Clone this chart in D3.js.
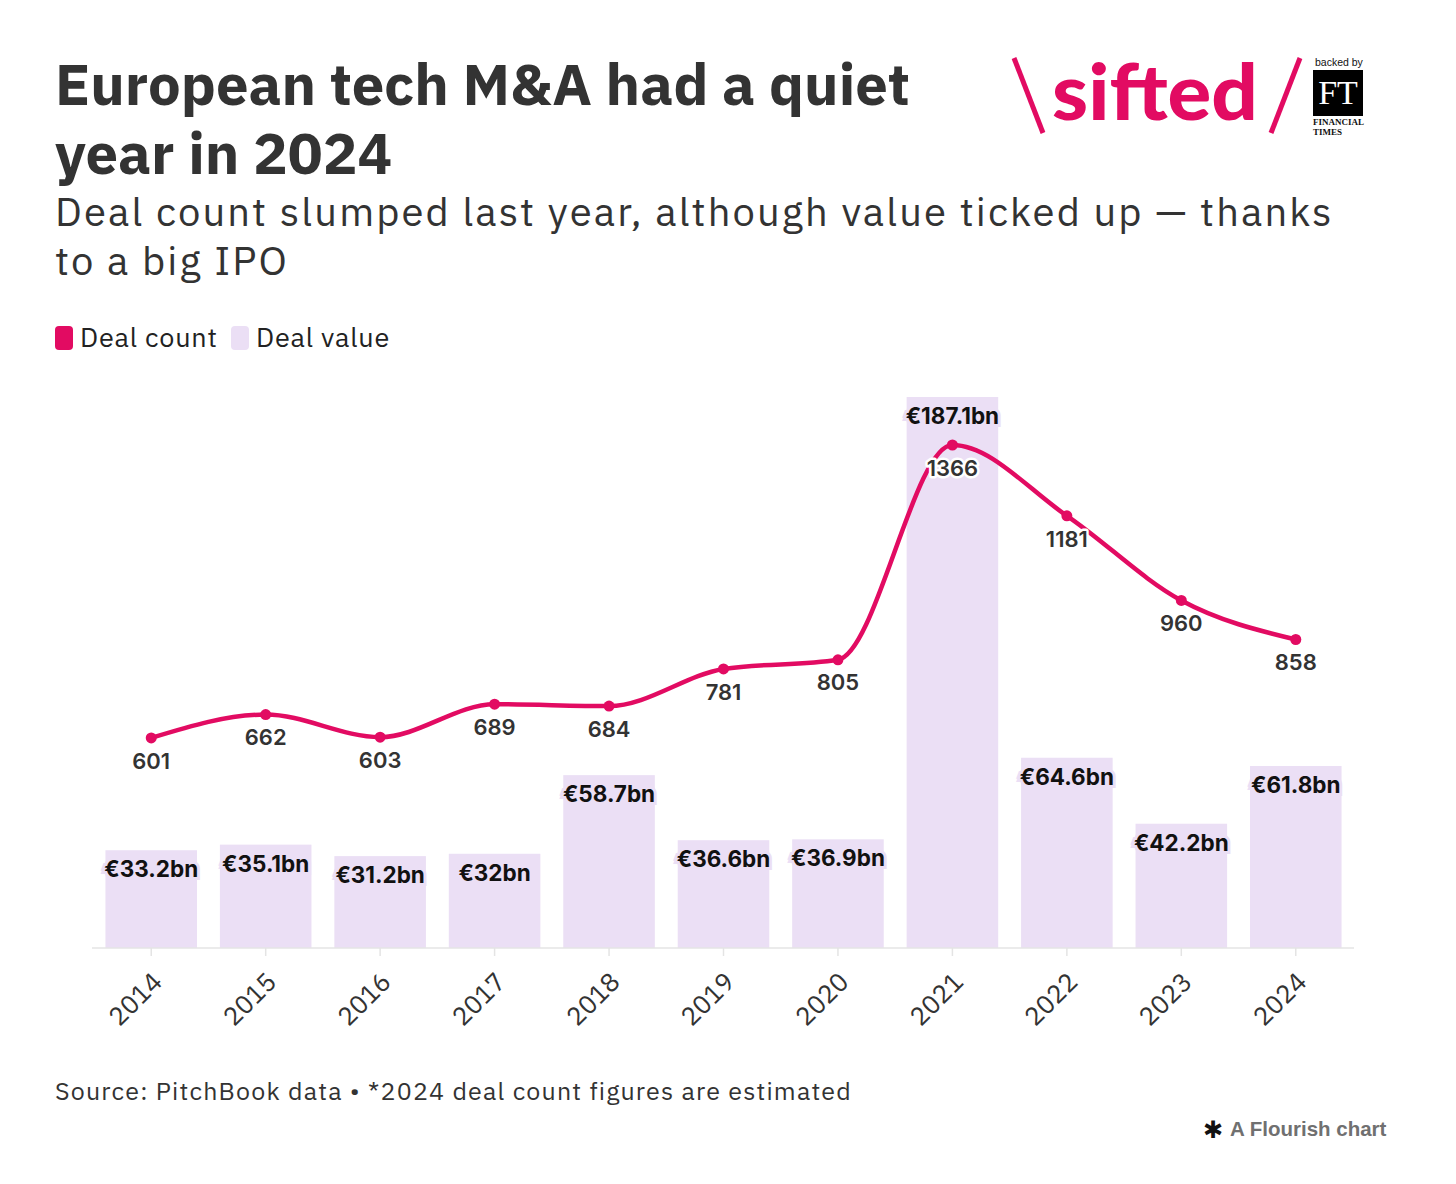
<!DOCTYPE html>
<html>
<head>
<meta charset="utf-8">
<script src="https://cdn.jsdelivr.net/npm/d3@7"></script>
<style>
	body { margin: 0; background: #fff; }
	svg { display: block; }
	.title { font-family: "IBM Plex Sans", "Noto Sans", sans-serif; font-weight: 700; fill: #333; }
	.subtitle { font-family: "IBM Plex Sans", "Noto Sans", sans-serif; font-weight: 400; fill: #333; }
	.legend { font-family: "IBM Plex Sans", "Noto Sans", sans-serif; fill: #222; }
	.tick-label { font-family: "IBM Plex Sans", "Noto Sans", sans-serif; fill: #333; }
	.bar-label { font-family: Inter, sans-serif; font-weight: 700; fill: #111; paint-order: stroke; }
	.count-label { font-family: Inter, sans-serif; font-weight: 600; fill: #333; paint-order: stroke; }
	.axis { stroke: #e4e4e4; stroke-width: 1.5; }
</style>
</head>
<body>
<svg id="chart"></svg>
<script>
var years = ["2014", "2015", "2016", "2017", "2018", "2019", "2020", "2021", "2022", "2023", "2024"];
var dealCount = [601, 662, 603, 689, 684, 781, 805, 1366, 1181, 960, 858];
var dealValue = [33.2, 35.1, 31.2, 32, 58.7, 36.6, 36.9, 187.1, 64.6, 42.2, 61.8];
var legendItems = ["Deal count", "Deal value"];

var pink = "#e20b62";
var lavender = "#ebdff5";

function DealChart(selector) {
	var self = this;
	self.width = 1456;
	self.height = 1184;
	self.svg = d3.select(selector).attr("width", self.width).attr("height", self.height);
	self.x = d3.scaleBand().domain(years).range([94, 1353]).paddingInner(0.2).paddingOuter(0.1);
	self.yValue = d3.scaleLinear().domain([0, d3.max(dealValue)]).range([948, 397]);
	self.yCount = d3.scaleLinear().domain([0, d3.max(dealCount)]).range([968, 445]);
	self.data = years.map(function(y, i) {
		return { year: y, count: dealCount[i], value: dealValue[i] };
	});
}

DealChart.prototype.draw = function() {
	var self = this;
	self.drawHeader();
	self.drawLogo();
	self.drawLegend();
	self.drawBars();
	self.drawAxis();
	self.drawLine();
	self.drawLabels();
	self.drawFooter();
};

DealChart.prototype.drawHeader = function() {
	var self = this;
	var title = self.svg.append("text").attr("class", "title").attr("font-size", 58);
	title.append("tspan").attr("x", 55).attr("y", 105).text("European tech M&A had a quiet");
	title.append("tspan").attr("x", 55).attr("y", 174).text("year in 2024");
	var sub = self.svg.append("text").attr("class", "subtitle").attr("font-size", 40)
		.attr("letter-spacing", 2.1);
	sub.append("tspan").attr("x", 55).attr("y", 226).text("Deal count slumped last year, although value ticked up \u2014 thanks");
	sub.append("tspan").attr("x", 55).attr("y", 275).text("to a big IPO");
};

DealChart.prototype.drawLogo = function() {
	var self = this;
	var g = self.svg.append("g");
	g.append("line").attr("x1", 1014).attr("y1", 58).attr("x2", 1043).attr("y2", 133)
		.attr("stroke", pink).attr("stroke-width", 5);
	g.append("line").attr("x1", 1300).attr("y1", 58).attr("x2", 1271).attr("y2", 133)
		.attr("stroke", pink).attr("stroke-width", 5);
	g.append("text").attr("x", 1052).attr("y", 120)
		.attr("font-family", "Lato, sans-serif").attr("font-weight", 900).attr("font-size", 78)
		.attr("textLength", 206).attr("lengthAdjust", "spacingAndGlyphs")
		.attr("fill", pink).text("sifted");
	g.append("text").attr("x", 1315).attr("y", 66)
		.attr("font-family", "Liberation Sans, sans-serif").attr("font-size", 10.5).attr("fill", "#111")
		.text("backed by");
	g.append("rect").attr("x", 1313).attr("y", 70).attr("width", 50).attr("height", 46).attr("fill", "#000");
	g.append("text").attr("x", 1338).attr("y", 104).attr("text-anchor", "middle")
		.attr("font-family", "Liberation Serif, serif").attr("font-size", 34).attr("fill", "#fff")
		.text("FT");
	var ft = g.append("text").attr("font-family", "Liberation Serif, serif").attr("font-size", 9)
		.attr("font-weight", 700).attr("fill", "#111");
	ft.append("tspan").attr("x", 1313).attr("y", 125).text("FINANCIAL");
	ft.append("tspan").attr("x", 1313).attr("y", 135).text("TIMES");
};

DealChart.prototype.drawLegend = function() {
	var self = this;
	var colors = [pink, lavender];
	var xs = [55, 231];
	legendItems.forEach(function(name, i) {
		self.svg.append("rect").attr("x", xs[i]).attr("y", 326).attr("width", 18).attr("height", 24)
			.attr("rx", 4).attr("fill", colors[i]);
		self.svg.append("text").attr("class", "legend").attr("x", xs[i] + 25).attr("y", 347)
			.attr("font-size", 27).attr("letter-spacing", 0.8).text(name);
	});
};

DealChart.prototype.drawBars = function() {
	var self = this;
	self.svg.append("g").selectAll("rect")
		.data(self.data)
		.enter().append("rect")
		.attr("x", function(d) { return self.x(d.year); })
		.attr("y", function(d) { return self.yValue(d.value); })
		.attr("width", self.x.bandwidth())
		.attr("height", function(d) { return self.yValue(0) - self.yValue(d.value); })
		.attr("fill", lavender);
};

DealChart.prototype.drawAxis = function() {
	var self = this;
	var base = self.yValue(0);
	self.svg.append("line").attr("class", "axis")
		.attr("x1", 92).attr("x2", 1354).attr("y1", base).attr("y2", base);
	var ticks = self.svg.append("g").selectAll("g")
		.data(years)
		.enter().append("g")
		.attr("transform", function(d) {
			return "translate(" + (self.x(d) + self.x.bandwidth() / 2) + "," + base + ")";
		});
	ticks.append("line").attr("y1", 0).attr("y2", 8).attr("stroke", "#e4e4e4").attr("stroke-width", 1.5);
	ticks.append("text").attr("class", "tick-label")
		.attr("font-size", 26)
		.attr("text-anchor", "end")
		.attr("transform", "translate(6,29) rotate(-45)")
		.attr("dy", "0.35em")
		.text(function(d) { return d; });
};

DealChart.prototype.drawLine = function() {
	var self = this;
	var cx = function(d) { return self.x(d.year) + self.x.bandwidth() / 2; };
	var line = d3.line()
		.x(cx)
		.y(function(d) { return self.yCount(d.count); })
		.curve(d3.curveMonotoneX);
	self.svg.append("path").datum(self.data)
		.attr("d", line)
		.attr("fill", "none")
		.attr("stroke", pink)
		.attr("stroke-width", 4.5);
	self.svg.append("g").selectAll("circle")
		.data(self.data)
		.enter().append("circle")
		.attr("cx", cx)
		.attr("cy", function(d) { return self.yCount(d.count); })
		.attr("r", 5.5)
		.attr("fill", pink);
};

DealChart.prototype.drawLabels = function() {
	var self = this;
	var cx = function(d) { return self.x(d.year) + self.x.bandwidth() / 2; };
	self.svg.append("g").selectAll("text")
		.data(self.data)
		.enter().append("text")
		.attr("class", "bar-label")
		.attr("x", cx)
		.attr("y", function(d) { return self.yValue(d.value) + 19; })
		.attr("dy", "0.35em")
		.attr("text-anchor", "middle")
		.attr("font-size", 22.5)
		.attr("stroke", lavender)
		.attr("stroke-width", 6)
		.text(function(d) { return "\u20ac" + d.value + "bn"; });
	self.svg.append("g").selectAll("text")
		.data(self.data)
		.enter().append("text")
		.attr("class", "count-label")
		.attr("x", cx)
		.attr("y", function(d) { return self.yCount(d.count) + 23; })
		.attr("dy", "0.35em")
		.attr("text-anchor", "middle")
		.attr("font-size", 22)
		.attr("stroke", "#fff")
		.attr("stroke-width", 5)
		.attr("stroke-linejoin", "round")
		.text(function(d) { return d.count; });
};

DealChart.prototype.drawFooter = function() {
	var self = this;
	self.svg.append("text").attr("class", "subtitle").attr("x", 55).attr("y", 1100)
		.attr("font-size", 25).attr("letter-spacing", 1.2)
		.text("Source: PitchBook data \u2022 *2024 deal count figures are estimated");
	self.svg.append("text").attr("x", 1213).attr("y", 1138).attr("text-anchor", "middle")
		.attr("font-family", "DejaVu Sans, sans-serif").attr("font-size", 24).attr("font-weight", 700)
		.attr("fill", "#111").text("\u2731");
	self.svg.append("text").attr("x", 1230).attr("y", 1136)
		.attr("font-family", "Liberation Sans, sans-serif").attr("font-weight", 700).attr("font-size", 20.5)
		.attr("fill", "#707070").text("A Flourish chart");
};

var chart = new DealChart("#chart");
chart.draw();
</script>
</body>
</html>
